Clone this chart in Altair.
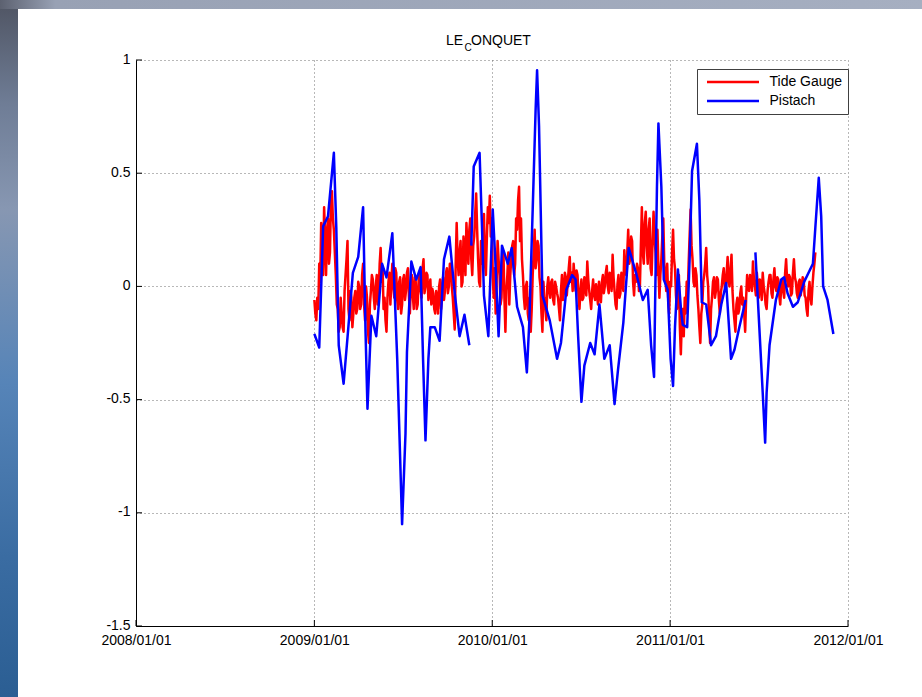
import altair as alt
import pandas as pd

START = pd.Timestamp("2009-01-01")

# Tide gauge sea level anomaly (m), one value every 2 days from 2009-01-01
tide_gauge = [
    -0.06, -0.12, -0.15, -0.05, -0.10, 0.10, 0.02, 0.28, 0.18, 0.05, 0.35, 0.22, 0.05, 0.25, 0.30, 0.10, 0.15, 0.38, 0.42, 0.30,
    0.25, 0.15, 0.05, -0.08, -0.10, -0.20, -0.18, -0.05, -0.12, -0.18, -0.20, -0.02, 0.05, 0.12, 0.20, -0.10, -0.15, -0.02, -0.05, -0.18,
    -0.12, -0.05, -0.02, -0.12, -0.10, 0.02, 0.00, -0.10, -0.08, 0.05, 0.10, -0.08, -0.15, 0.00, -0.05, -0.20, -0.25, -0.08, -0.02, 0.05,
    0.03, -0.05, -0.10, 0.00, 0.05, -0.08, -0.03, 0.10, 0.17, 0.02, 0.08, -0.10, -0.05, -0.15, -0.20, -0.05, 0.02, 0.06, -0.08, 0.02,
    0.10, 0.00, -0.05, 0.08, 0.06, -0.06, -0.10, 0.02, 0.04, -0.12, -0.08, 0.03, 0.05, -0.06, -0.02, 0.06, 0.08, -0.04, -0.12, 0.00,
    0.05, -0.04, -0.10, 0.04, 0.02, -0.10, -0.08, 0.03, 0.06, -0.02, -0.05, 0.08, 0.12, -0.03, 0.00, 0.06, 0.05, -0.06, -0.02, 0.03,
    -0.08, -0.01, -0.03, -0.10, -0.12, -0.02, -0.05, -0.12, 0.00, 0.03, -0.10, -0.04, 0.04, -0.06, -0.02, 0.06, 0.08, -0.03, 0.00, 0.10,
    0.10, 0.00, -0.05, -0.12, -0.19, 0.10, 0.28, 0.12, 0.05, 0.15, 0.20, 0.00, 0.02, 0.22, 0.15, 0.05, 0.28, 0.18, 0.10, 0.25,
    0.30, 0.12, 0.05, 0.18, 0.22, 0.32, 0.41, 0.25, 0.12, 0.02, 0.00, 0.20, 0.10, 0.25, 0.32, 0.10, 0.05, 0.22, 0.35, 0.28,
    0.40, 0.22, 0.30, 0.05, -0.05, 0.08, -0.12, 0.02, 0.20, 0.12, 0.05, -0.08, -0.05, 0.10, 0.15, -0.05, -0.20, -0.02, 0.05, 0.15,
    -0.08, 0.05, 0.12, 0.18, 0.20, 0.05, 0.10, 0.30, 0.25, 0.38, 0.44, 0.20, 0.30, 0.12, 0.05, -0.05, -0.10, 0.00, 0.02, -0.12,
    -0.15, -0.05, -0.20, -0.10, 0.05, 0.15, 0.25, 0.08, 0.12, 0.20, 0.18, 0.04, 0.00, -0.12, -0.20, 0.02, -0.05, -0.10, -0.15, 0.00,
    0.04, -0.02, -0.05, 0.02, 0.03, -0.06, -0.08, 0.02, 0.00, -0.03, -0.05, -0.10, -0.15, -0.02, 0.05, -0.06, -0.03, 0.06, 0.04, -0.04,
    0.02, 0.08, 0.13, 0.02, 0.06, -0.02, 0.10, 0.04, -0.02, 0.07, 0.05, -0.04, -0.10, -0.02, 0.03, -0.06, -0.05, 0.04, 0.00, -0.04,
    0.11, 0.03, -0.02, -0.06, -0.10, -0.02, 0.03, -0.04, -0.06, 0.01, -0.04, -0.08, 0.02, -0.03, -0.07, 0.02, 0.05, -0.03, 0.00, 0.06,
    0.09, 0.00, -0.03, 0.06, 0.05, -0.02, 0.14, 0.04, -0.02, -0.08, -0.10, 0.01, 0.05, -0.05, -0.03, 0.06, 0.03, -0.02, 0.16, 0.06,
    0.05, 0.15, 0.25, 0.10, 0.12, 0.22, 0.20, 0.02, -0.04, 0.05, 0.02, 0.10, 0.08, -0.02, 0.00, 0.18, 0.35, 0.15, 0.10, 0.28,
    0.33, 0.18, 0.10, 0.25, 0.30, 0.08, 0.05, 0.20, 0.33, 0.22, 0.15, 0.05, 0.25, 0.08, -0.05, 0.05, 0.12, 0.22, 0.30, 0.10,
    0.05, -0.02, 0.10, -0.05, -0.12, 0.02, 0.00, 0.15, 0.25, 0.12, 0.08, -0.04, -0.10, 0.00, 0.05, -0.18, -0.30, -0.15, -0.10, -0.22,
    -0.05, -0.12, 0.02, -0.04, 0.10, 0.22, 0.34, 0.18, 0.12, 0.02, 0.00, 0.08, 0.05, -0.04, -0.10, -0.18, -0.25, -0.12, -0.08, 0.02,
    0.05, 0.10, 0.17, 0.05, 0.00, -0.15, -0.25, -0.10, -0.05, 0.02, 0.04, -0.05, -0.02, 0.04, 0.03, -0.06, -0.12, -0.03, 0.00, 0.05,
    0.08, 0.00, -0.02, 0.06, 0.13, 0.02, 0.00, 0.08, 0.14, -0.02, -0.10, -0.15, -0.20, -0.08, -0.05, -0.12, -0.10, -0.03, 0.00, -0.08,
    -0.05, -0.12, -0.20, -0.05, 0.05, -0.01, -0.02, 0.05, 0.04, -0.02, 0.11, 0.03, 0.00, -0.04, 0.06, 0.00, -0.05, 0.03, 0.02, -0.06,
    0.06, 0.00, -0.03, -0.08, -0.10, -0.02, 0.02, 0.05, 0.05, -0.03, -0.05, 0.03, 0.08, 0.00, -0.02, 0.04, 0.03, -0.04, -0.08, 0.00,
    0.03, -0.02, -0.05, 0.06, 0.12, 0.03, 0.00, 0.05, 0.04, -0.04, -0.03, 0.06, 0.12, 0.04, 0.02, -0.03, -0.05, 0.02, 0.03, -0.04,
    0.00, 0.04, 0.03, -0.04, -0.05, -0.10, -0.13, -0.02, 0.02, -0.05, -0.08, 0.00, 0.06, 0.10, 0.15,
]

# Pistach altimetry: days after 2009-01-01 and anomaly (m)
pistach_day = [
    0, 10, 18, 28, 40, 45, 50, 60, 69, 79, 90, 100, 105, 109, 117, 127, 139,
    148, 160, 170, 180, 187, 190, 199, 209, 218, 223, 228, 234, 238, 247, 257,
    266, 277, 288, 298, 308, 318,
    322, 327, 339, 344, 348, 357, 366, 371, 378, 385, 397, 405, 416, 428, 436,
    441, 448, 454, 457, 461, 468, 483, 498, 506, 517, 529, 536, 541, 548, 554,
    566, 575, 585, 595, 606, 616, 623, 634, 645, 660, 674, 684, 691, 697, 700,
    703, 706, 712, 717, 725, 731, 736, 740, 746, 753, 756, 765, 770, 775, 785,
    790, 795, 804, 814, 824, 835, 845, 855, 862, 872, 885,
    905, 913, 920, 925, 928, 934, 947, 958, 964, 971, 982, 992, 1005, 1023,
    1028, 1035, 1040, 1044, 1053, 1065,
]
pistach_val = [
    -0.21, -0.27, 0.265, 0.31, 0.59, 0.26, -0.26, -0.43, -0.20, 0.06, 0.13,
    0.35, -0.20, -0.54, -0.13, -0.22, 0.10, 0.04, 0.235, -0.32, -1.05, -0.65,
    -0.29, 0.11, 0.03, 0.085, -0.32, -0.68, -0.32, -0.18, -0.18, -0.24, 0.12,
    0.22, -0.03, -0.22, -0.125, -0.26,
    0.18, 0.53, 0.59, 0.26, -0.04, -0.22, 0.34, 0.13, -0.22, 0.18, 0.10, 0.17,
    -0.09, -0.18, -0.38, -0.16, 0.34, 0.78, 0.955, 0.71, -0.04, -0.15, -0.32,
    -0.25, -0.015, 0.05, 0.03, -0.21, -0.51, -0.35, -0.25, -0.30, -0.08, -0.32,
    -0.26, -0.52, -0.37, -0.16, 0.17, 0.06, -0.06, -0.015, -0.26, -0.40, 0.04,
    0.44, 0.72, 0.44, 0.03, -0.015, -0.32, -0.44, -0.18, 0.075, -0.12, -0.17,
    -0.18, 0.12, 0.51, 0.63, 0.38, -0.07, -0.08, -0.26, -0.22, -0.08, 0.015,
    -0.32, -0.28, -0.18, -0.06,
    0.15, -0.18, -0.47, -0.69, -0.47, -0.26, -0.06, 0.03, 0.04, -0.03, -0.09,
    -0.07, 0.02, 0.10, 0.26, 0.48, 0.31, 0.00, -0.06, -0.21,
]
# last day before each interruption of the altimetry record
pistach_gaps = [318, 885]

years = [2008, 2009, 2010, 2011, 2012]
y_ticks = [-1.5, -1, -0.5, 0, 0.5, 1]
series = ["Tide Gauge", "Pistach"]
colors = ["#ff0000", "#0000ff"]

FONT = "Liberation Sans"

tide_df = pd.DataFrame({
    "date": pd.date_range(START, periods=len(tide_gauge), freq="2D").strftime("%Y-%m-%d"),
    "value": tide_gauge,
    "series": series[0],
})
pistach_df = pd.DataFrame({
    "date": (START + pd.to_timedelta(pistach_day, unit="D")).strftime("%Y-%m-%d"),
    "value": pistach_val,
    "series": series[1],
    "seg": [sum(d > g for g in pistach_gaps) for d in pistach_day],
})
xtick_df = pd.DataFrame({"date": [f"{y}-01-01" for y in years]})
ytick_df = pd.DataFrame({"value": y_ticks})

year_dt = [alt.DateTime(year=y, month=1, date=1, utc=True) for y in years]

x_scale = alt.Scale(type="utc", domain=[year_dt[0], year_dt[-1]])
y_scale = alt.Scale(domain=[-1.5, 1], nice=False)
color_scale = alt.Scale(domain=series, range=colors)

x_axis = alt.Axis(
    values=year_dt, format="%Y/%m/%d", title=None, ticks=False,
    labelFont=FONT, labelFontSize=14, labelColor="black", labelPadding=7,
    labelFlush=False, labelOverlap=False,
    domainColor="black", domainWidth=1,
    grid=True, gridColor="#707070", gridDash=[1, 3], gridWidth=1,
)
y_axis = alt.Axis(
    values=y_ticks, labelExpr="'' + datum.value", title=None, ticks=False,
    labelFont=FONT, labelFontSize=14, labelColor="black", labelPadding=6,
    labelOffset=-1,
    domainColor="black", domainWidth=1,
    grid=True, gridColor="#707070", gridDash=[1, 3], gridWidth=1,
)
legend = alt.Legend(
    orient="none", legendX=561, legendY=9, title=None,
    symbolType="stroke", symbolSize=2704, symbolStrokeWidth=2.5,
    symbolOffset=3.5, labelOffset=9, clipHeight=16,
    labelFont=FONT, labelFontSize=14, labelColor="black",
    padding=5, rowPadding=3,
    strokeColor="#404040", fillColor="white",
)

tide_line = alt.Chart(tide_df).mark_line(strokeWidth=2.5, strokeJoin="round").encode(
    x=alt.X("date:T", scale=x_scale, axis=x_axis),
    y=alt.Y("value:Q", scale=y_scale, axis=y_axis),
    color=alt.Color("series:N", scale=color_scale, legend=legend),
)
pistach_line = alt.Chart(pistach_df).mark_line(strokeWidth=2.5, strokeJoin="round").encode(
    x=alt.X("date:T", scale=x_scale, axis=x_axis),
    y=alt.Y("value:Q", scale=y_scale, axis=y_axis),
    color=alt.Color("series:N", scale=color_scale, legend=legend),
    detail="seg:N",
)

# inward tick marks on the bottom and left axes
x_ticks = alt.Chart(xtick_df).mark_rule(color="black", strokeWidth=1).encode(
    x=alt.X("date:T", scale=x_scale, axis=x_axis),
    y=alt.value(566), y2=alt.value(560),
)
y_ticks_marks = alt.Chart(ytick_df).mark_rule(color="black", strokeWidth=1).encode(
    y=alt.Y("value:Q", scale=y_scale, axis=y_axis),
    x=alt.value(0), x2=alt.value(6),
)

# title with a subscripted letter
one_row = alt.Data(values=[{"k": 1}])
title_le = alt.Chart(one_row).mark_text(
    text="LE", align="right", baseline="alphabetic", font=FONT, fontSize=14, color="black"
).encode(x=alt.value(327), y=alt.value(-15))
title_sub = alt.Chart(one_row).mark_text(
    text="C", align="left", baseline="alphabetic", font=FONT, fontSize=10, color="black"
).encode(x=alt.value(328.5), y=alt.value(-9))
title_rest = alt.Chart(one_row).mark_text(
    text="ONQUET", align="left", baseline="alphabetic", font=FONT, fontSize=14, color="black"
).encode(x=alt.value(335), y=alt.value(-15))

# window frame around the figure
frame_left = alt.Chart(one_row).mark_rect(
    color=alt.LinearGradient(
        gradient="linear", x1=0, x2=0, y1=0, y2=1,
        stops=[
            alt.GradientStop(color="#4f5462", offset=0),
            alt.GradientStop(color="#6f7d96", offset=0.15),
            alt.GradientStop(color="#8797b2", offset=0.3),
            alt.GradientStop(color="#5684b8", offset=0.55),
            alt.GradientStop(color="#3a6ca2", offset=0.8),
            alt.GradientStop(color="#2b5e93", offset=1),
        ],
    )
).encode(x=alt.value(-136), x2=alt.value(-118), y=alt.value(-60), y2=alt.value(637))
frame_top = alt.Chart(one_row).mark_rect(
    color=alt.LinearGradient(
        gradient="linear", x1=0, x2=1, y1=0, y2=0,
        stops=[
            alt.GradientStop(color="#5c6170", offset=0),
            alt.GradientStop(color="#98a1b4", offset=0.06),
            alt.GradientStop(color="#a6afc1", offset=1),
        ],
    )
).encode(x=alt.value(-136), x2=alt.value(786), y=alt.value(-60), y2=alt.value(-51))

chart = alt.layer(
    tide_line, pistach_line,
    x_ticks, y_ticks_marks,
    frame_left, frame_top,
    title_le, title_sub, title_rest,
).resolve_scale(color="shared").properties(
    width=712, height=566,
    autosize=alt.AutoSizeParams(type="none"),
    padding={"left": 136, "top": 60, "right": 74, "bottom": 71},
    background="white",
).configure_view(strokeWidth=0)

chart.save("out.html", embed_options={"renderer": "svg", "actions": False})
